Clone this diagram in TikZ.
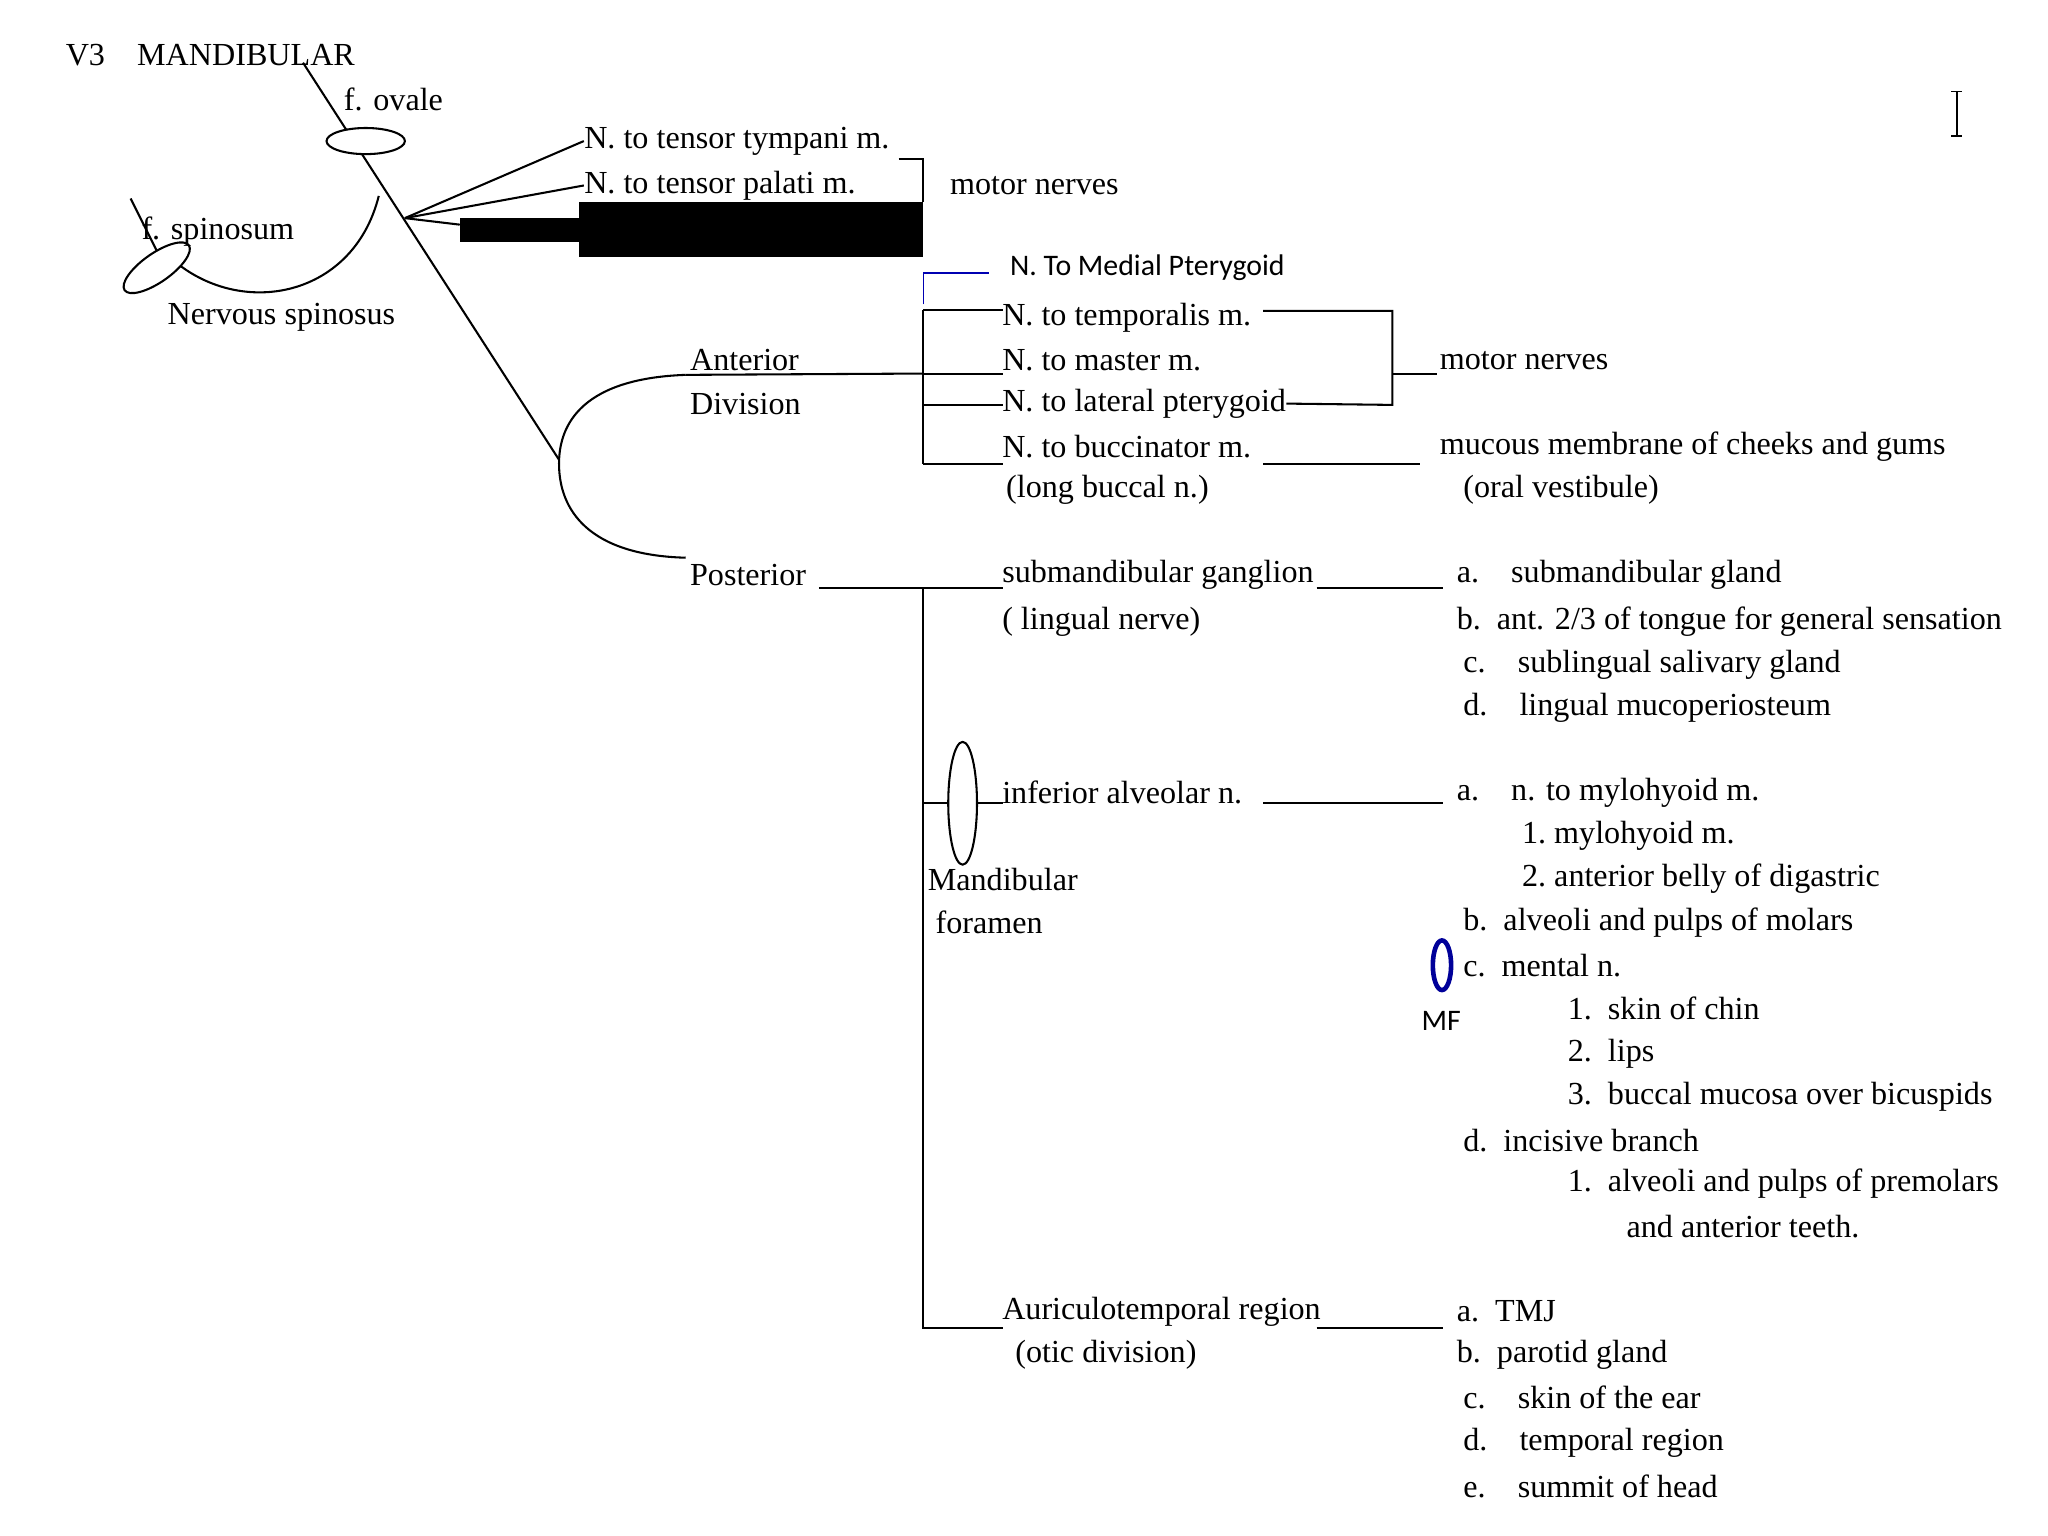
\documentclass[tikz,border=0pt]{standalone}
\usepackage{fontspec}
\setmainfont{Liberation Serif}
\newfontfamily\sansf{Carlito}
\usetikzlibrary{positioning}
\tikzset{lbl/.style={anchor=west,inner sep=0pt,font=\fontsize{14}{16}\selectfont},
         slbl/.style={anchor=west,inner sep=0pt,font=\sansf\fontsize{13}{15}\selectfont},
         ln/.style={line width=0.9pt}}
\begin{document}
\begin{tikzpicture}[x=0.02cm,y=-0.02cm]
\useasboundingbox (0,0) rectangle (1568,1176);

% titles and upper part
\node[lbl] (v3) at (50,42) {V3\quad MANDIBULAR};
\node[lbl] (ovl) at (263,76) {f. ovale};
\draw[ln] (232,48) -- (428,352);
\draw[ln,fill=white] (280,108) ellipse (30 and 10);
\coordinate (fan) at (310,167);
\node[lbl] (tty) at (447,108) {N. to tensor tympani m.};
\node[lbl] (tpl) at (447,142) {N. to tensor palati m.};
\draw[ln] (fan) -- (tty.west);
\draw[ln] (fan) -- (tpl.west);
\draw[ln] (fan) -- (352,172);
\fill (352,167) rectangle (443,185);
\fill (443,155) rectangle (707,197);
\draw[ln] (688,122) -- (707,122) -- (707,155);
\node[lbl] (mot1) at (727,142) {motor nerves};

% spinosum
\draw[ln] (100,152) -- (120,192);
\draw[ln] (290,150) .. controls (270,230) and (180,245) .. (128,195);
\draw[ln,fill=white,rotate around={35:(120,205)}] (120,205) ellipse (30 and 11);
\node[lbl] (spn) at (108,177) {f. spinosum};
\node[lbl] (nsp) at (128,243) {Nervous spinosus};

% divisions
\draw[ln] (525,287) .. controls (440,290) and (428,330) .. (428,355)
          .. controls (428,390) and (450,425) .. (525,427);
\node[lbl] (ant) at (528,276) {Anterior};
\node[lbl] (div) at (528,309) {Division};
\node[lbl] (pos) at (528,440) {Posterior};
\draw[ln] (525,287) -- (707,286);

% anterior branches
\draw[ln] (707,237) -- (707,355);
\foreach \yy in {237,286,310,355} \draw[ln] (707,\yy) -- (768,\yy);
\draw[blue!70!black,line width=0.6pt] (707,233) -- (707,209) -- (757,209);
\node[slbl] (mpt) at (773,205) {N. To Medial Pterygoid};
\node[lbl] (tmp) at (767,243) {N. to temporalis m.};
\node[lbl] (mst) at (767,276) {N. to master m.};
\node[lbl] (lpt) at (767,309) {N. to lateral pterygoid};
\node[lbl] (bcc) at (767,342) {N. to buccinator m.};
\node[lbl] (lbn) at (770,375) {(long buccal n.)};
\draw[ln] (967,238) -- (1066,238) -- (1066,310) -- (lpt.east);
\draw[ln] (1066,286) -- (1100,286);
\node[lbl] (mot2) at (1102,276) {motor nerves};
\draw[ln] (967,355) -- (1087,355);
\node[lbl] (muc) at (1102,342) {mucous membrane of cheeks and gums};
\node[lbl] (ovs) at (1120,375) {(oral vestibule)};

% posterior branches
\draw[ln] (627,450) -- (768,450);
\draw[ln] (707,450) -- (707,1017) -- (768,1017);
\node[lbl] (smg) at (767,440) {submandibular ganglion};
\node[lbl] (lng) at (767,476) {( lingual nerve)};
\draw[ln] (1008,450) -- (1105,450);
\node[lbl] at (1115,440) {a.\quad submandibular gland};
\node[lbl] at (1115,476) {b.\ \ ant. 2/3 of tongue for general sensation};
\node[lbl] at (1120,509) {c.\quad sublingual salivary gland};
\node[lbl] at (1120,542) {d.\quad lingual mucoperiosteum};

\draw[ln] (707,615) -- (768,615);
\draw[ln,fill=white] (737,615) ellipse (11 and 47);
\node[lbl] (ian) at (767,607) {inferior alveolar n.};
\node[lbl] (mfo) at (710,673) {Mandibular};
\node[lbl] (mfo2) at (716,706) {foramen};
\draw[ln] (967,615) -- (1105,615);
\node[lbl] at (1115,607) {a.\quad n. to mylohyoid m.};
\node[lbl] at (1165,640) {1.\ mylohyoid m.};
\node[lbl] at (1165,673) {2.\ anterior belly of digastric};
\node[lbl] at (1120,706) {b.\ \ alveoli and pulps of molars};
\node[lbl] at (1120,739) {c.\ \ mental n.};
\draw[blue!60!black,line width=2pt] (1104,739) ellipse (7 and 19);
\node[slbl] (mf) at (1088,782) {MF};
\node[lbl] at (1200,772) {1.\ \ skin of chin};
\node[lbl] at (1200,807) {2.\ \ lips};
\node[lbl] at (1200,840) {3.\ \ buccal mucosa over bicuspids};
\node[lbl] at (1120,873) {d.\ \ incisive branch};
\node[lbl] at (1200,906) {1.\ \ alveoli and pulps of premolars};
\node[lbl] at (1245,939) {and anterior teeth.};

\node[lbl] (aur) at (767,1004) {Auriculotemporal region};
\node[lbl] (otc) at (777,1037) {(otic division)};
\draw[ln] (1008,1017) -- (1105,1017);
\node[lbl] at (1115,1004) {a.\ \ TMJ};
\node[lbl] at (1115,1037) {b.\ \ parotid gland};
\node[lbl] at (1120,1070) {c.\quad skin of the ear};
\node[lbl] at (1120,1105) {d.\quad temporal region};
\node[lbl] at (1120,1138) {e.\quad summit of head};

% cursor
\draw[line width=0.8pt] (1494,70) -- (1502,70) (1498,70) -- (1498,104) (1494,104) -- (1502,104);
\end{tikzpicture}
\end{document}
